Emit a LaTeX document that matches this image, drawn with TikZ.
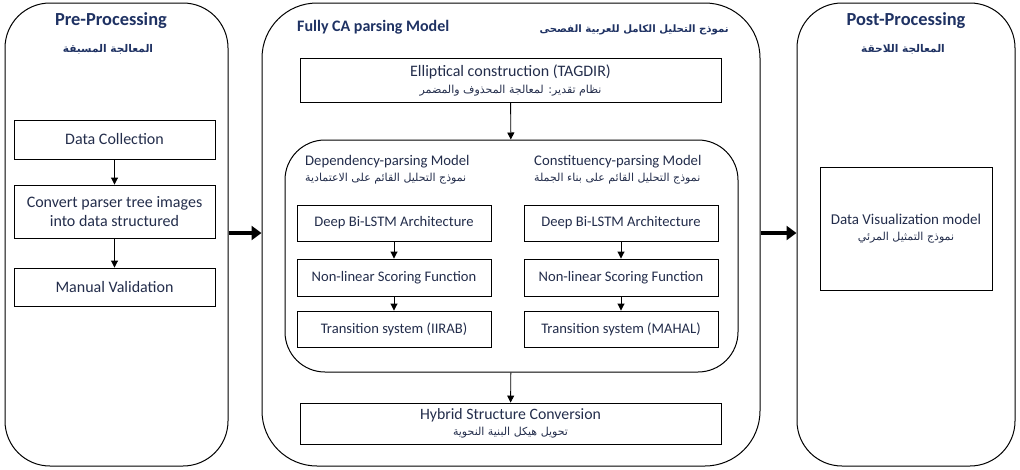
\documentclass[tikz,border=0pt]{standalone}
\usepackage{fontspec}
\setmainfont{Carlito}
\newfontfamily\arabicfont[Script=Arabic]{DejaVu Sans}
\TeXXeTstate=1
\usetikzlibrary{arrows.meta}
\definecolor{headnavy}{RGB}{31,50,99}
\definecolor{txtnavy}{RGB}{35,45,75}
\newcommand{\ar}[1]{{\arabicfont\beginR #1\endR}}
\tikzset{
  panel/.style={draw, line width=1pt, rounded corners=45pt, inner sep=0pt},
  box/.style={draw, line width=0.9pt, inner sep=0pt, align=center, text=txtnavy, font=\fontsize{14.6}{17.5}\selectfont},
  bigbox/.style={box, font=\fontsize{16}{19}\selectfont},
  lbl/.style={inner sep=0pt, text=txtnavy, align=left},
  head/.style={inner sep=0pt, text=headnavy, font=\bfseries\fontsize{18.4}{22}\selectfont},
  arhead/.style={inner sep=0pt, text=headnavy, font=\bfseries\fontsize{10.6}{13}\selectfont},
  thin/.style={-{Triangle[length=7pt,width=7pt]}, line width=0.9pt},
  thick/.style={-{Triangle[length=10pt,width=14pt]}, line width=4pt}
}
\begin{document}
\begin{tikzpicture}[x=1pt,y=-1pt]
\useasboundingbox (0,0) rectangle (1020,469);
% panels
\node[panel, minimum width=223pt, minimum height=463pt] (pre) at (116.5,234.5) {};
\node[panel, rounded corners=55pt, minimum width=498pt, minimum height=463pt] (mid) at (511,234.5) {};
\node[panel, minimum width=218pt, minimum height=463pt] (post) at (906,234.5) {};
% headings
\node[head] (preh) at (111,21) {Pre-Processing};
\node[arhead] (prea) at (108,49) {\ar{المعالجة المسبقة}};
\node[head] (posth) at (906,21) {Post-Processing};
\node[arhead] (posta) at (903,49) {\ar{المعالجة اللاحقة}};
\node[inner sep=0pt, text=headnavy, font=\bfseries\fontsize{16}{19}\selectfont, anchor=west] (midh) at (297,27) {Fully CA parsing Model};
\node[arhead, anchor=east, font=\bfseries\fontsize{10.2}{12}\selectfont] (mida) at (729,30) {\ar{نموذج التحليل الكامل للعربية الفصحى}};
% left boxes
\node[bigbox, minimum width=201pt, minimum height=39pt] (dc) at (114.5,139.5) {Data Collection};
\node[bigbox, minimum width=201pt, minimum height=53pt] (cv) at (114.5,211.5) {Convert parser tree images\\into data structured};
\node[bigbox, minimum width=201pt, minimum height=38pt] (mv) at (114.5,287) {Manual Validation};
\draw[thin] (dc) -- (cv);
\draw[thin] (cv) -- (mv);
% middle
\node[bigbox, minimum width=421pt, minimum height=44pt] (ell) at (510.5,80) {Elliptical construction (TAGDIR)\\[-2pt]{\fontsize{11}{13}\selectfont\ar{نظام تقدير: لمعالجة المحذوف والمضمر}}};
\node[draw, line width=1pt, rounded corners=40pt, inner sep=0pt, minimum width=453pt, minimum height=232pt] (inner) at (511.5,256) {};
\node[lbl, anchor=north west, font=\fontsize{14.7}{17}\selectfont] (deph) at (305,155) {Dependency-parsing Model\\[-1pt]{\fontsize{11}{13}\selectfont\ar{نموذج التحليل القائم على الاعتمادية}}};
\node[lbl, anchor=north west, font=\fontsize{14.7}{17}\selectfont] (consh) at (534,155) {Constituency-parsing Model\\[-1pt]{\fontsize{11}{13}\selectfont\ar{نموذج التحليل القائم على بناء الجملة}}};
\node[box, minimum width=194pt, minimum height=36pt] (d1) at (394,223) {Deep Bi-LSTM Architecture};
\node[box, minimum width=194pt, minimum height=37pt] (d2) at (394,277.5) {Non-linear Scoring Function};
\node[box, minimum width=194pt, minimum height=36pt] (d3) at (394,329) {Transition system (IIRAB)};
\node[box, minimum width=194pt, minimum height=36pt] (c1) at (621,223) {Deep Bi-LSTM Architecture};
\node[box, minimum width=194pt, minimum height=37pt] (c2) at (621,277.5) {Non-linear Scoring Function};
\node[box, minimum width=194pt, minimum height=36pt] (c3) at (621,329) {Transition system (MAHAL)};
\draw[thin] (d1) -- (d2);
\draw[thin] (d2) -- (d3);
\draw[thin] (c1) -- (c2);
\draw[thin] (c2) -- (c3);
\node[bigbox, font=\fontsize{15.8}{18}\selectfont, minimum width=421pt, minimum height=41pt] (hyb) at (510.5,423.5) {Hybrid Structure Conversion\\[-2pt]{\fontsize{11}{13}\selectfont\ar{تحويل هيكل البنية النحوية}}};
\draw[thin] (ell) -- (inner);
\draw[thin] (inner) -- (hyb);
% right
\node[box, font=\fontsize{15}{18}\selectfont, minimum width=172pt, minimum height=123pt] (vis) at (906,228.5) {Data Visualization model\\[-2pt]{\fontsize{11}{13}\selectfont\ar{نموذج التمثيل المرئي}}};
% thick arrows
\draw[thick] (pre.east |- 0,233) -- (mid.west |- 0,233);
\draw[thick] (mid.east |- 0,233) -- (post.west |- 0,233);
\end{tikzpicture}
\end{document}
